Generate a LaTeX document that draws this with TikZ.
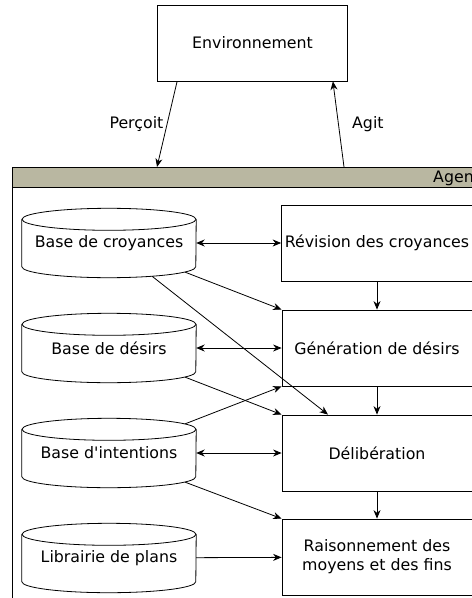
\documentclass[tikz,border=0pt]{standalone}
\usepackage{fontspec}
\setmainfont{DejaVu Sans}
\usepackage{tikz}
\usetikzlibrary{calc,positioning,arrows.meta,shapes.geometric}

\definecolor{agentband}{RGB}{185,183,161}

\begin{document}
\begin{tikzpicture}[x=1bp,y=-1bp]

	\tikzstyle{block} = [rectangle, draw, line width=0.8bp, fill=white,
    		minimum width=190bp, minimum height=76bp, align=center,
    		font=\fontsize{15.8bp}{19bp}\selectfont]
	\tikzstyle{base} = [rectangle, draw=none, inner sep=0pt,
    		minimum width=174bp, minimum height=69bp,
    		font=\fontsize{15.8bp}{19bp}\selectfont]
	\tikzstyle{plaintext} = [draw=none, fill=none, font=\fontsize{15.8bp}{19bp}\selectfont]
	\tikzstyle{line} = [draw, ->, >={Stealth[length=8.5bp,width=7bp]}, line width=0.8bp]
	\tikzstyle{dline} = [line, <->]

    \useasboundingbox (0,0) rectangle (472,598);
    \clip (0,0) rectangle (472,598);

    % Agent frame
    \draw [line width=0.8bp, fill=white] (12,167) rectangle (540,640);
    \draw [line width=0.8bp, fill=agentband] (12,167) rectangle (540,187);
    \node [plaintext, anchor=west, inner sep=0pt] at (433,178) (agent) {Agent};

    % Place nodes
    \node [block] at (252.5,43) (env) {Environnement};

    \node [base] at (109,243) (bc) {Base de croyances};
    \node [base] at (109,348) (bd) {Base de désirs};
    \node [base] at (109,453) (bi) {Base d\textquotesingle intentions};
    \node [base] at (109,558) (lp) {Librairie de plans};

    % Cylinders round the bases
    \foreach \n in {bc,bd,bi,lp} {
        \draw [line width=0.8bp] ($(\n.north)+(0,11)$) ellipse [x radius=87, y radius=11];
        \draw [line width=0.8bp] ($(\n.north west)+(0,11)$) -- ($(\n.south west)+(0,-11)$)
            arc [start angle=180, end angle=0, x radius=87, y radius=11]
            -- ($(\n.north east)+(0,11)$);
    }

    \node [block] at (377,243) (rev) {Révision des croyances};
    \node [block] at (377,348) (gen) {Génération de désirs};
    \node [block] at (377,453) (del) {Délibération};
    \node [block] at (377,557) (rai) {Raisonnement des\\moyens et des fins};

    \coordinate (percu) at (157,167);
    \coordinate (agi) at (344,167);

    % Draw edges
    \path [line] ($(env.south west)+(20,0)$) -- node [plaintext, left, pos=0.5] {Perçoit} (percu);
    \path [line] (agi) -- node [plaintext, right=10bp, pos=0.5] {Agit} ($(env.south east)+(-15,0)$);

    \path [dline] (bc) -- (rev);
    \path [dline] (bd) -- (gen);
    \path [dline] (bi) -- (del);
    \path [line] (lp) -- (rai);

    \path [line] (rev) -- (gen);
    \path [line] (gen) -- (del);
    \path [line] (del) -- (rai);

    \path [line] ($(bc.south east)+(-11,-5.5)$) -- (gen.north west);
    \path [line] ($(bc.south)+(43,-1.5)$) -- ($(del.north)+(-49,0)$);
    \path [line] ($(bd.south east)+(-11,-5.5)$) -- (del.north west);
    \path [line] ($(bi.north east)+(-11,5.5)$) -- (gen.south west);
    \path [line] ($(bi.south east)+(-11,-5.5)$) -- (rai.north west);
\end{tikzpicture}
\end{document}
